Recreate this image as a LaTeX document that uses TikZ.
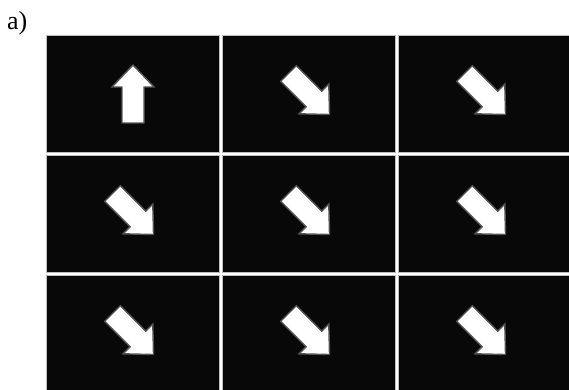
\documentclass[tikz,border=0pt]{standalone}
\usepackage{fontspec}
\setmainfont{Liberation Serif}
\usepackage{tikz}
\usetikzlibrary{positioning}

\definecolor{panelblack}{HTML}{080808}
\definecolor{panelrim}{HTML}{BDBDBD}
\definecolor{arrowrim}{HTML}{555555}

\begin{document}
\begin{tikzpicture}
  [
    x=1pt, y=-1pt,
    on grid,
    node distance=120pt and 176pt,
    panel/.style={draw=panelrim, fill=panelblack, line width=1pt, rectangle,
      minimum width=173pt, minimum height=117pt, inner sep=0pt},
    arrowbody/.style={draw=arrowrim, fill=white, line width=1.4pt, line join=miter},
    pics/mvarrow/.style={code={
      \draw [arrowbody] (0,-29) -- (21,-7) -- (11,-7) -- (11,29)
        -- (-11,29) -- (-11,-7) -- (-21,-7) -- cycle;
    }}
  ]
    \useasboundingbox (0,0) rectangle (569,390);
    \clip (0,0) rectangle (569,390);
    % =========================================================================
    % PANELS
    % =========================================================================
    \node [panel] (p11) at (133,94) {};
    \node [panel, right=of p11] (p12) {};
    \node [panel, right=of p12] (p13) {};
    \node [panel, below=of p11] (p21) {};
    \node [panel, right=of p21] (p22) {};
    \node [panel, right=of p22] (p23) {};
    \node [panel, below=of p21] (p31) {};
    \node [panel, right=of p31] (p32) {};
    \node [panel, right=of p32] (p33) {};

    \node [anchor=base west, inner sep=0pt, font=\fontsize{26}{30}\selectfont]
      (tag) at (7,30) {a)};

    % =========================================================================
    % ARROWS
    % =========================================================================
    \pic at (p11) {mvarrow};
    \pic [rotate=-135] at (p12) {mvarrow};
    \pic [rotate=-135] at (p13) {mvarrow};
    \pic [rotate=-135] at (p21) {mvarrow};
    \pic [rotate=-135] at (p22) {mvarrow};
    \pic [rotate=-135] at (p23) {mvarrow};
    \pic [rotate=-135] at (p31) {mvarrow};
    \pic [rotate=-135] at (p32) {mvarrow};
    \pic [rotate=-135] at (p33) {mvarrow};

\end{tikzpicture}
\end{document}
